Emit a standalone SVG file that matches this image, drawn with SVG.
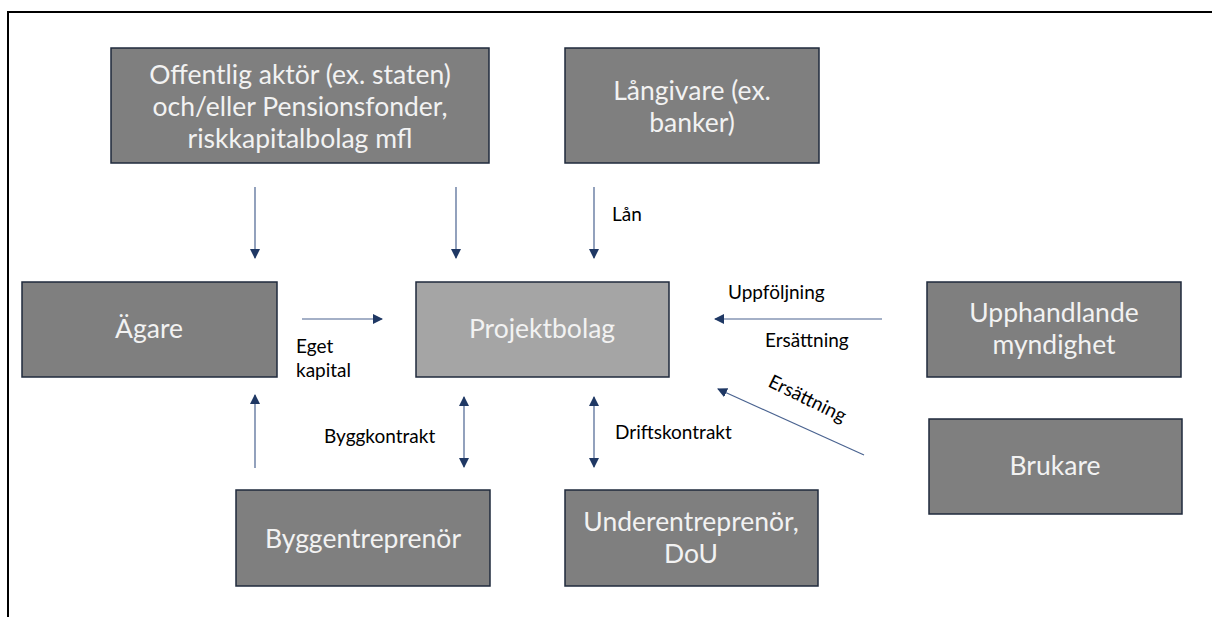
<svg xmlns="http://www.w3.org/2000/svg" width="1212" height="617" viewBox="0 0 1212 617">
<defs>
<style>
.box{fill:#7f7f7f;stroke:#1f2a3c;stroke-width:1.5}
.box2{fill:#a5a5a5;stroke:#1f2a3c;stroke-width:1.5}
.nt{font-family:Lato,"Open Sans",sans-serif;font-size:26.5px;fill:#f2f2f2;text-anchor:middle}
.lb{font-family:Lato,"Open Sans",sans-serif;font-size:19px;fill:#000}
.ln{stroke:#4a6390;stroke-width:1.2;fill:none}
</style>
<marker id="ah" viewBox="0 0 10 10" refX="9" refY="5" markerWidth="10" markerHeight="10" markerUnits="userSpaceOnUse" orient="auto-start-reverse">
<path d="M0,0 L10,5 L0,10 z" fill="#1f3864"/>
</marker>
</defs>
<rect width="1212" height="617" fill="#fff"/>
<path d="M8,617 V12 H1212" stroke="#000" stroke-width="2" fill="none"/>
<g id="offentlig"><rect class="box" x="111" y="48" width="378" height="115"/><text class="nt" x="300" y="84">Offentlig aktör (ex. staten)</text><text class="nt" x="300" y="116">och/eller Pensionsfonder,</text><text class="nt" x="300" y="148">riskkapitalbolag mfl</text></g>
<g id="langivare"><rect class="box" x="565" y="48" width="254" height="115"/><text class="nt" x="692" y="100">Långivare (ex.</text><text class="nt" x="692" y="132">banker)</text></g>
<g id="agare"><rect class="box" x="22" y="282" width="255" height="95"/><text class="nt" x="149" y="338">Ägare</text></g>
<g id="projektbolag"><rect class="box2" x="416" y="282" width="253" height="95"/><text class="nt" x="542" y="338">Projektbolag</text></g>
<g id="upphandlande"><rect class="box" x="927" y="282" width="254" height="95"/><text class="nt" x="1054" y="322">Upphandlande</text><text class="nt" x="1054" y="354">myndighet</text></g>
<g id="brukare"><rect class="box" x="929" y="419" width="253" height="95"/><text class="nt" x="1055" y="475">Brukare</text></g>
<g id="byggentreprenor"><rect class="box" x="236" y="490" width="254" height="96"/><text class="nt" x="363" y="548">Byggentreprenör</text></g>
<g id="underentreprenor"><rect class="box" x="565" y="490" width="253" height="96"/><text class="nt" x="691" y="531">Underentreprenör,</text><text class="nt" x="691" y="563">DoU</text></g>
<g id="connectors">
<line class="ln" x1="255" y1="187" x2="255" y2="258" marker-end="url(#ah)"/>
<line class="ln" x1="456" y1="187" x2="456" y2="258" marker-end="url(#ah)"/>
<line class="ln" x1="594" y1="187" x2="594" y2="258" marker-end="url(#ah)"/>
<line class="ln" x1="302" y1="319" x2="382" y2="319" marker-end="url(#ah)"/>
<line class="ln" x1="882" y1="319" x2="715" y2="319" marker-end="url(#ah)"/>
<line class="ln" x1="864" y1="455" x2="718" y2="389" marker-end="url(#ah)"/>
<line class="ln" x1="464" y1="397" x2="464" y2="467" marker-start="url(#ah)" marker-end="url(#ah)"/>
<line class="ln" x1="594" y1="397" x2="594" y2="467" marker-start="url(#ah)" marker-end="url(#ah)"/>
<line class="ln" x1="255" y1="468" x2="255" y2="395" marker-end="url(#ah)"/>
<text class="lb" x="612" y="221">Lån</text>
<text class="lb" x="296" y="353">Eget</text>
<text class="lb" x="296" y="377">kapital</text>
<text class="lb" x="728" y="299">Uppföljning</text>
<text class="lb" x="765" y="347">Ersättning</text>
<text class="lb" x="767" y="386" transform="rotate(26 767 386)">Ersättning</text>
<text class="lb" x="324" y="443">Byggkontrakt</text>
<text class="lb" x="615" y="439">Driftskontrakt</text>
</g>
</svg>
